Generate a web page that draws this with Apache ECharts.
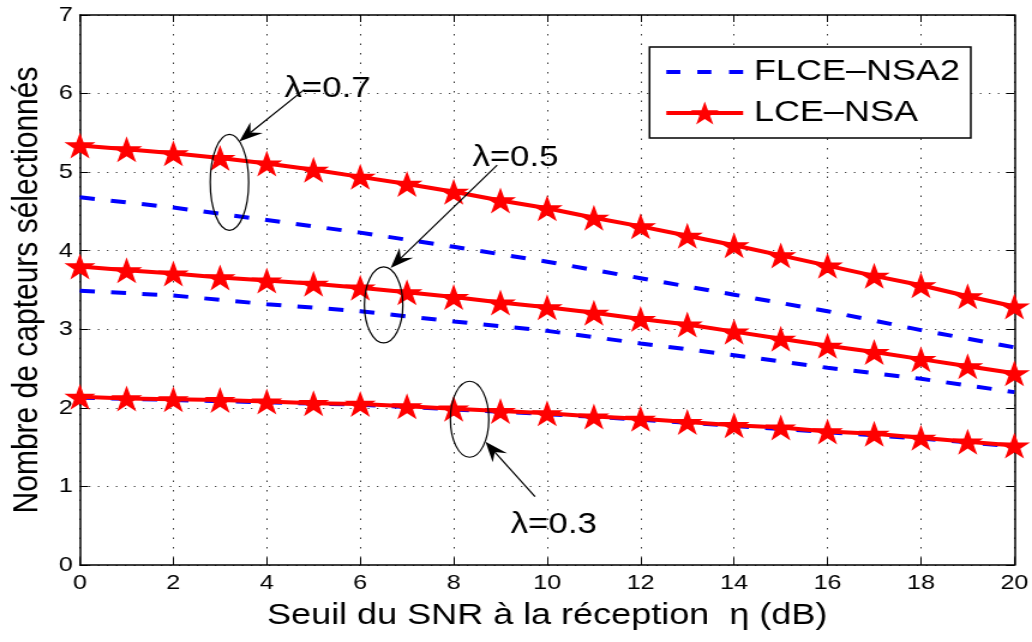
<!DOCTYPE html>
<html>
<head>
<meta charset="utf-8">
<script src="https://cdn.jsdelivr.net/npm/echarts@6.0.0/dist/echarts.min.js"></script>
<style>
  html, body { margin: 0; padding: 0; background: #fff; overflow: hidden; }
  #wrap { width: 1032px; height: 642px; overflow: hidden; }
  /* the original figure is stretched sideways, so the chart is drawn narrower and scaled */
  #chart { width: 860px; height: 642px; transform: scaleX(1.2); transform-origin: 0 0; }
</style>
</head>
<body>
<div id="wrap"><div id="chart"></div></div>
<script>
// seuil du SNR (dB)
const snr = [0, 1, 2, 3, 4, 5, 6, 7, 8, 9, 10, 11, 12, 13, 14, 15, 16, 17, 18, 19, 20];
const snrEven = [0, 2, 4, 6, 8, 10, 12, 14, 16, 18, 20];

// LCE-NSA (etoiles)
const lce07 = [5.34, 5.29, 5.24, 5.18, 5.11, 5.03, 4.94, 4.85, 4.75, 4.64, 4.54, 4.42, 4.31, 4.19, 4.07, 3.94, 3.81, 3.68, 3.56, 3.42, 3.29];
const lce05 = [3.80, 3.75, 3.71, 3.66, 3.62, 3.58, 3.53, 3.47, 3.41, 3.34, 3.28, 3.21, 3.13, 3.06, 2.97, 2.88, 2.79, 2.71, 2.62, 2.53, 2.44];
const lce03 = [2.14, 2.12, 2.11, 2.10, 2.08, 2.06, 2.05, 2.02, 1.99, 1.96, 1.93, 1.89, 1.86, 1.82, 1.78, 1.75, 1.70, 1.67, 1.62, 1.57, 1.52];

// FLCE-NSA2 (tirets)
const flce07 = [4.68, 4.55, 4.39, 4.23, 4.05, 3.86, 3.65, 3.44, 3.23, 2.99, 2.77];
const flce05 = [3.49, 3.43, 3.32, 3.23, 3.10, 2.98, 2.82, 2.67, 2.51, 2.37, 2.20];
const flce03 = [2.13, 2.10, 2.07, 2.04, 1.98, 1.92, 1.85, 1.77, 1.69, 1.61, 1.51];

const xTicks = { min: 0, max: 20, step: 2 };
const yTicks = { min: 0, max: 7, step: 1 };

const nameA = 'FLCE–NSA2';
const nameB = 'LCE–NSA';
const font = '"Liberation Sans", Arial, Helvetica, sans-serif';
const star = 'path://M50,0 L61.2,34.5 L97.6,34.5 L68.2,55.9 L79.4,90.5 L50,69.1 L20.6,90.5 L31.8,55.9 L2.4,34.5 L38.8,34.5 Z';
const dashIcon = 'path://M0,0 h11.7 v4 h-11.7 Z M25.8,0 h11.7 v4 h-11.7 Z M52.3,0 h11.7 v4 h-11.7 Z';

function pairs(xs, ys) {
    return xs.map((x, i) => [x, ys[i]]);
}

function dashed(ys) {
    return {
        name: nameA, type: 'line', data: pairs(snrEven, ys),
        symbol: 'none', silent: true, z: 2,
        lineStyle: { color: '#0000ff', width: 4, type: [12.5, 13.5] },
        itemStyle: { color: '#0000ff' }
    };
}
function starred(ys) {
    return {
        name: nameB, type: 'line', data: pairs(snr, ys),
        symbol: star, symbolSize: 26, silent: true, z: 3,
        lineStyle: { color: '#ff0000', width: 4 },
        itemStyle: { color: '#ff0000' }
    };
}

const boxAxis = {
    axisLine: { show: true, onZero: false, lineStyle: { color: '#000', width: 1.5 } },
    axisTick: { show: true, inside: true, length: 7, lineStyle: { color: '#000', width: 1 } }
};

const chart = echarts.init(document.getElementById('chart'));
chart.setOption({
    animation: false,
    backgroundColor: '#fff',
    grid: { left: 65, right: 13.3, top: 15, bottom: 77 },
    legend: {
        data: [{ name: nameA, icon: dashIcon }, { name: nameB, lineStyle: { width: 4 } }],
        orient: 'vertical', right: 51, top: 47,
        itemWidth: 64, itemHeight: 29, itemGap: 11,
        padding: [10, 9, 10, 12],
        backgroundColor: '#fff', borderColor: '#000', borderWidth: 1.5, borderRadius: 0,
        selectedMode: false,
        textStyle: { fontSize: 30, color: '#000', fontFamily: font, padding: [0, 0, 0, 4] }
    },
    xAxis: [
        Object.assign({
            type: 'value', min: xTicks.min, max: xTicks.max, interval: xTicks.step,
            name: 'Seuil du SNR à la réception  η (dB)', nameLocation: 'middle', nameGap: 36,
            nameTextStyle: { fontSize: 30, color: '#000', fontFamily: font },
            axisLabel: { color: '#000', fontSize: 21, fontFamily: font, margin: 8, showMinLabel: true, showMaxLabel: true },
            splitLine: { show: true, lineStyle: { color: '#333', width: 1, type: [1.5, 8] } }
        }, boxAxis),
        Object.assign({
            type: 'value', position: 'top', min: xTicks.min, max: xTicks.max, interval: xTicks.step,
            axisLabel: { show: false }, splitLine: { show: false }
        }, boxAxis)
    ],
    yAxis: [
        Object.assign({
            type: 'value', min: yTicks.min, max: yTicks.max, interval: yTicks.step,
            name: 'Nombre de capteurs sélectionnés', nameLocation: 'middle', nameGap: 27,
            nameTextStyle: { fontSize: 30, color: '#000', fontFamily: font },
            axisLabel: { color: '#000', fontSize: 21, fontFamily: font, margin: 6, showMinLabel: true, showMaxLabel: true },
            splitLine: { show: true, lineStyle: { color: '#333', width: 1, type: [1.2, 6.3] } }
        }, boxAxis),
        Object.assign({
            type: 'value', position: 'right', min: yTicks.min, max: yTicks.max, interval: yTicks.step,
            axisLabel: { show: false }, splitLine: { show: false }
        }, boxAxis)
    ],
    series: [
        dashed(flce07), dashed(flce05), dashed(flce03),
        starred(lce07), starred(lce05), starred(lce03)
    ]
});

// annotations: ellipse around the curves, arrow from the label to the ellipse
const notes = [
    { text: 'λ=0.7', at: [4.38, 6.06], centre: [3.2, 4.87], ry: 48, from: [4.8, 6.05], to: [3.41, 5.39] },
    { text: 'λ=0.5', at: [8.4, 5.18], centre: [6.5, 3.31], ry: 38, from: [8.93, 5.09], to: [6.65, 3.78] },
    { text: 'λ=0.3', at: [9.22, 0.51], centre: [8.34, 1.855], ry: 38, from: [9.74, 0.87], to: [8.68, 1.57] }
];

function px(v) {
    return chart.convertToPixel({ xAxisIndex: 0, yAxisIndex: 0 }, v);
}

const graphics = [];
notes.forEach(n => {
    const c = px(n.centre);
    const a = px(n.from);
    const b = px(n.to);
    const t = px(n.at);
    const dx = b[0] - a[0], dy = b[1] - a[1];
    const len = Math.hypot(dx, dy);
    const ux = dx / len, uy = dy / len;
    const L = 20, W = 7.5, N = 13;
    const bx = b[0] - ux * L, by = b[1] - uy * L;
    const notch = [b[0] - ux * N, b[1] - uy * N];
    graphics.push({
        type: 'ellipse', z: 10, silent: true,
        shape: { cx: c[0], cy: c[1], rx: 16, ry: n.ry },
        style: { fill: 'none', stroke: '#000', lineWidth: 1.2 }
    });
    graphics.push({
        type: 'line', z: 10, silent: true,
        shape: { x1: a[0], y1: a[1], x2: notch[0], y2: notch[1] },
        style: { stroke: '#000', lineWidth: 1.2 }
    });
    graphics.push({
        type: 'polygon', z: 10, silent: true,
        shape: { points: [b, [bx - uy * W, by + ux * W], notch, [bx + uy * W, by - ux * W]] },
        style: { fill: '#000' }
    });
    graphics.push({
        type: 'text', z: 11, silent: true, x: t[0], y: t[1],
        style: { text: n.text, fill: '#000', fontSize: 29, fontFamily: font, verticalAlign: 'middle', align: 'left' }
    });
});
chart.setOption({ graphic: graphics });
</script>
</body>
</html>
